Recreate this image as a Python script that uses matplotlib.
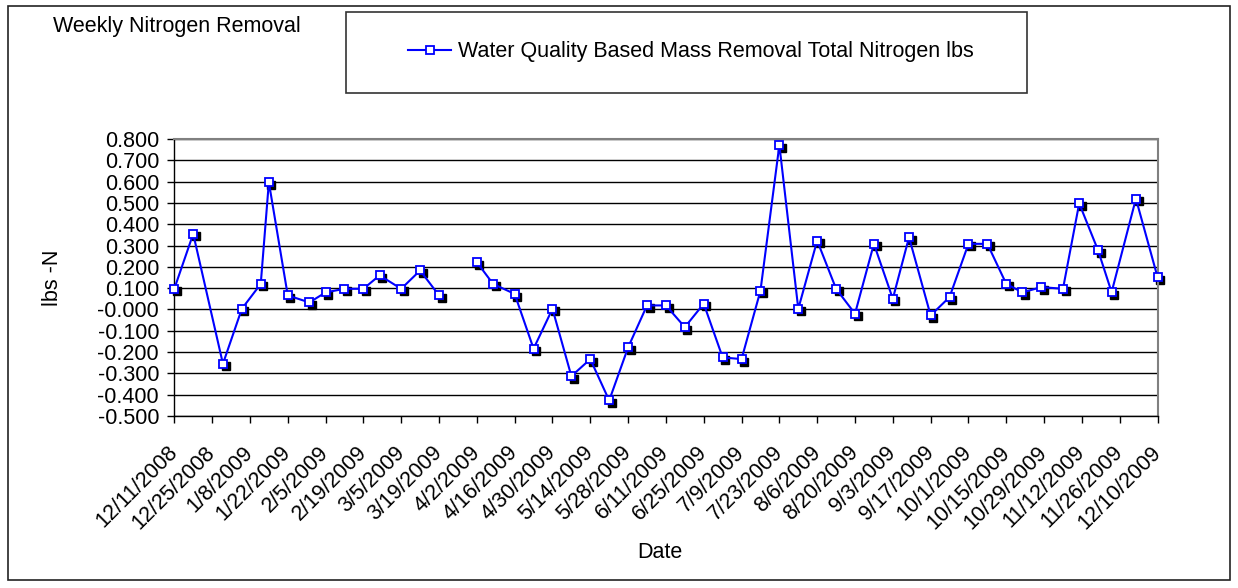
import matplotlib
matplotlib.use('Agg')
import matplotlib.pyplot as plt
import matplotlib.transforms as mtransforms
from matplotlib.patches import Rectangle
import numpy as np
import pandas as pd

plt.rcParams['font.family'] = ['Liberation Sans', 'DejaVu Sans']

# sample dates and weekly nitrogen removal (lbs); 3/26 has no value
dates = ['12/11/2008', '12/18/2008', '12/29/2008', '1/5/2009', '1/12/2009', '1/15/2009',
         '1/22/2009', '1/30/2009', '2/5/2009', '2/12/2009', '2/19/2009', '2/25/2009',
         '3/5/2009', '3/12/2009', '3/19/2009', '3/26/2009', '4/2/2009', '4/8/2009',
         '4/16/2009', '4/23/2009', '4/30/2009', '5/7/2009', '5/14/2009', '5/21/2009',
         '5/28/2009', '6/4/2009', '6/11/2009', '6/18/2009', '6/25/2009', '7/2/2009',
         '7/9/2009', '7/16/2009', '7/23/2009', '7/30/2009', '8/6/2009', '8/13/2009',
         '8/20/2009', '8/27/2009', '9/3/2009', '9/9/2009', '9/17/2009', '9/24/2009',
         '10/1/2009', '10/8/2009', '10/15/2009', '10/21/2009', '10/28/2009', '11/5/2009',
         '11/11/2009', '11/18/2009', '11/23/2009', '12/2/2009', '12/10/2009']
removal = [0.097, 0.355, -0.255, 0.003, 0.120, 0.597,
           0.066, 0.033, 0.080, 0.097, 0.097, 0.160,
           0.097, 0.183, 0.066, np.nan, 0.222, 0.120,
           0.073, -0.184, 0.003, -0.313, -0.233, -0.427,
           -0.178, 0.019, 0.019, -0.083, 0.027, -0.225,
           -0.233, 0.088, 0.772, 0.003, 0.323, 0.097,
           -0.020, 0.308, 0.050, 0.339, -0.028, 0.058,
           0.308, 0.308, 0.120, 0.080, 0.105, 0.097,
           0.498, 0.277, 0.081, 0.520, 0.152]

tick_labels = ['12/11/2008', '12/25/2008', '1/8/2009', '1/22/2009', '2/5/2009', '2/19/2009',
               '3/5/2009', '3/19/2009', '4/2/2009', '4/16/2009', '4/30/2009', '5/14/2009',
               '5/28/2009', '6/11/2009', '6/25/2009', '7/9/2009', '7/23/2009', '8/6/2009',
               '8/20/2009', '9/3/2009', '9/17/2009', '10/1/2009', '10/15/2009', '10/29/2009',
               '11/12/2009', '11/26/2009', '12/10/2009']

x = pd.to_datetime(dates, format='%m/%d/%Y')
xt = pd.to_datetime(tick_labels, format='%m/%d/%Y')

fs = 15.5

fig = plt.figure(figsize=(12.38, 5.88), dpi=100)
ax = fig.add_axes([0.1408, 0.2925, 0.7942, 0.4711])

# outer chart border
fig.patches.append(Rectangle((8 / 1238, 8 / 588), 1222 / 1238, 574 / 588, transform=fig.transFigure,
                             fill=False, edgecolor='#222222', lw=1.2))

# marker shadow
shadow = mtransforms.offset_copy(ax.transData, fig=fig, x=2.6, y=-2.6, units='dots')
ax.plot(x, removal, ls='none', marker='s', ms=5.2, color='black', transform=shadow,
        clip_on=False, zorder=2)
ax.plot(x, removal, color='#0000FF', lw=1.5, marker='s', ms=5.2, mfc='white', mec='#0000FF',
        mew=1.3, clip_on=False, zorder=3,
        label='Water Quality Based Mass Removal Total Nitrogen lbs')

ax.set_xlim(xt[0], xt[-1])
ax.set_ylim(-0.5, 0.8)
ax.set_yticks(np.arange(-0.5, 0.81, 0.1))
ax.yaxis.set_major_formatter(plt.FormatStrFormatter('%.3f'))
ax.set_xticks(xt)
ax.set_xticklabels(tick_labels, rotation=45, ha='right', va='center', rotation_mode='anchor')
ax.tick_params(axis='both', labelsize=fs, direction='out', length=5, width=1)
ax.tick_params(axis='y', pad=6)
ax.tick_params(axis='x', pad=19)
ax.grid(axis='y', color='black', lw=1)
ax.set_axisbelow(True)

for s in ['top', 'right']:
    ax.spines[s].set_color('#808080')
    ax.spines[s].set_linewidth(1.5)
for s in ['left', 'bottom']:
    ax.spines[s].set_color('black')
    ax.spines[s].set_linewidth(1)

fig.text(52 / 1238, 1 - 278 / 588, 'lbs -N', rotation=90, ha='center', va='center', fontsize=fs)
fig.text(660 / 1238, 1 - 553 / 588, 'Date', ha='center', va='center', fontsize=fs)
fig.text(53 / 1238, 1 - 32 / 588, 'Weekly Nitrogen Removal', ha='left', va='baseline', fontsize=fs)

# legend box
fig.patches.append(Rectangle((346 / 1238, 1 - 93 / 588), 681 / 1238, 81 / 588, transform=fig.transFigure,
                             fill=False, edgecolor='#333333', lw=1.2))
h, l = ax.get_legend_handles_labels()
fig.legend(h, l, loc='center', bbox_to_anchor=(691 / 1238, 1 - 52 / 588), frameon=False,
           fontsize=fs, handlelength=2.0, handletextpad=0.3)

fig.savefig('out.png', dpi=100)
